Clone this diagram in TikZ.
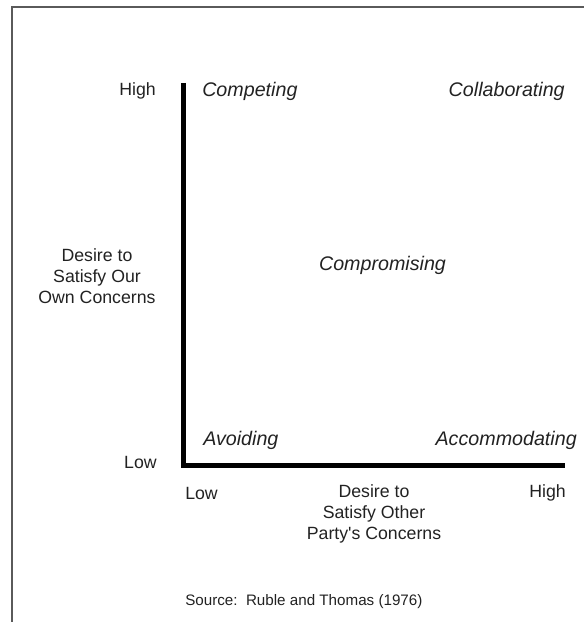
\documentclass[tikz,border=0pt]{standalone}
\usepackage{fontspec}
\setmainfont{Liberation Sans}
\usepackage{tikz}
\usetikzlibrary{positioning}
\usetikzlibrary{calc}
\definecolor{txtgray}{RGB}{34,34,34}
\definecolor{framegray}{RGB}{90,90,90}
\tikzstyle{every node}=[inner sep=0,text=txtgray]
\tikzstyle{mode}=[font=\fontsize{14}{16}\selectfont\itshape]
\font\straightfont="Liberation Sans" at 12.6pt
\newcommand{\sq}{{\straightfont\char"27}}

\begin{document}
\begin{tikzpicture}[font=\fontsize{12.6}{14.9}\selectfont]
\newcommand{\axw}{3.4pt}
\useasboundingbox (0,0) rectangle (14.6,15.55);

%frame round the page
\draw[framegray,line width=1pt] (0.3,0) -- (0.3,15.375) -- (14.6,15.375);

%axes corner and ends
\coordinate (O) at (4.59,3.91);
\coordinate (Ytop) at (4.59,13.475);
\coordinate (Xend) at (14.125,3.91);
\draw[line width=\axw,line join=miter] (Ytop) -- (O) -- (Xend);

% axis labels
\path (3.9,13.275) node (HighY) [anchor=east] {High}
      (3.925,4.0) node (LowY) [anchor=east] {Low}
      (2.425,8.65) node (OwnC) [align=center] {Desire to\\Satisfy Our\\Own Concerns}
      (4.625,3.225) node (LowX) [anchor=west] {Low}
      (14.15,3.225) node (HighX) [anchor=east] {High}
      (9.35,2.7) node (OtherC) [align=center] {Desire to\\Satisfy Other\\Party\sq s Concerns};

% the five modes
\path (5.05,13.275) node (Comp) [mode,anchor=west] {Competing}
      (14.125,13.275) node (Coll) [mode,anchor=east] {Collaborating}
      (9.5625,8.925) node (Compr) [mode] {Compromising}
      (5.075,4.55) node (Avoid) [mode,anchor=west] {Avoiding}
      (14.425,4.55) node (Accom) [mode,anchor=east] {Accommodating};

\path (4.625,0.5) node (Src) [anchor=west,font=\fontsize{10.8}{13}\selectfont] {Source:\ \ Ruble and Thomas (1976)};

\end{tikzpicture}
\end{document}
